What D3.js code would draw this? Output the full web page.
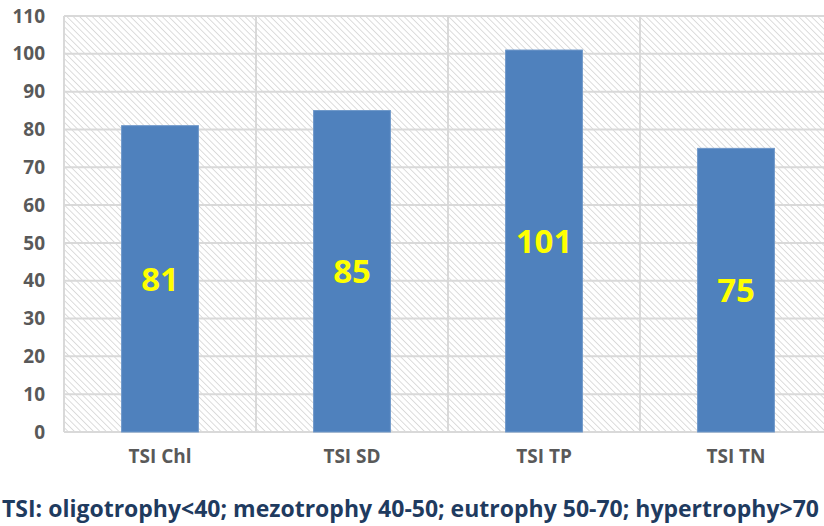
<!DOCTYPE html>
<html>
<head>
<meta charset="utf-8">
<script src="https://cdn.jsdelivr.net/npm/d3@7"></script>
<style>
  html, body { margin: 0; padding: 0; background: #fff; }
  svg { display: block; }
</style>
</head>
<body>
<svg id="chart" width="824" height="526"></svg>
<script>
// Trophic state index components
const categories = ["TSI Chl", "TSI SD", "TSI TP", "TSI TN"];
const values = [81, 85, 101, 75];
const yTicks = [0, 10, 20, 30, 40, 50, 60, 70, 80, 90, 100, 110];
const caption = "TSI: oligotrophy<40; mezotrophy 40-50; eutrophy 50-70; hypertrophy>70";

const svg = d3.select("#chart");
const font = "'Open Sans', Lato, 'DejaVu Sans', sans-serif";

const plot = { left: 64, top: 16, right: 832, bottom: 432 };

const x = d3.scaleBand()
  .domain(categories)
  .range([plot.left, plot.right])
  .paddingInner(0.6)
  .paddingOuter(0.3);

const xCat = d3.scaleBand()
  .domain(categories)
  .range([plot.left, plot.right]);

const y = d3.scaleLinear()
  .domain([0, 110])
  .range([plot.bottom, plot.top]);

// diagonal hatch fill for the plot background
const defs = svg.append("defs");
const pat = defs.append("pattern")
  .attr("id", "hatch")
  .attr("patternUnits", "userSpaceOnUse")
  .attr("width", 4.5)
  .attr("height", 4.5)
  .attr("patternTransform", "rotate(45)");
pat.append("rect").attr("width", 4.5).attr("height", 4.5).attr("fill", "#ffffff");
pat.append("line")
  .attr("x1", 0).attr("y1", 0).attr("x2", 4.5).attr("y2", 0)
  .attr("stroke", "#cfcfcf").attr("stroke-width", 1.4);

svg.append("rect")
  .attr("x", plot.left)
  .attr("y", plot.top)
  .attr("width", plot.right - plot.left)
  .attr("height", plot.bottom - plot.top)
  .attr("fill", "url(#hatch)");

// horizontal gridlines
svg.append("g")
  .selectAll("line")
  .data(yTicks)
  .join("line")
  .attr("x1", plot.left)
  .attr("x2", plot.right)
  .attr("y1", d => y(d))
  .attr("y2", d => y(d))
  .attr("stroke", "#d9d9d9")
  .attr("stroke-width", 2);

// vertical gridlines between categories
const vBounds = [plot.left].concat(categories.slice(1).map(c => xCat(c)));
svg.append("g")
  .selectAll("line")
  .data(vBounds)
  .join("line")
  .attr("x1", d => d)
  .attr("x2", d => d)
  .attr("y1", plot.top)
  .attr("y2", plot.bottom)
  .attr("stroke", "#d9d9d9")
  .attr("stroke-width", 2);

// bars
svg.append("g")
  .selectAll("rect")
  .data(values)
  .join("rect")
  .attr("x", (d, i) => x(categories[i]))
  .attr("width", x.bandwidth())
  .attr("y", d => y(d))
  .attr("height", d => y(0) - y(d))
  .attr("fill", "#4f81bd")
  .attr("stroke", "#6f98c9")
  .attr("stroke-width", 1);

// value labels centred inside the bars
svg.append("g")
  .selectAll("text")
  .data(values)
  .join("text")
  .attr("x", (d, i) => x(categories[i]) + x.bandwidth() / 2)
  .attr("y", d => (y(d) + y(0)) / 2)
  .attr("dy", "0.36em")
  .attr("text-anchor", "middle")
  .attr("font-family", font)
  .attr("font-weight", "bold")
  .attr("font-size", 33)
  .attr("fill", "#ffff00")
  .text(d => d);

// y axis tick labels
const yAxis = d3.axisLeft(y).tickValues(yTicks).tickSize(0).tickPadding(0);
const gy = svg.append("g")
  .attr("transform", "translate(45,0)")
  .call(yAxis);
gy.select(".domain").remove();
gy.selectAll("text")
  .attr("font-family", font)
  .attr("font-weight", "bold")
  .attr("font-size", 19)
  .attr("fill", "#595959");

// x axis category labels
const xAxis = d3.axisBottom(xCat).tickSize(0).tickPadding(0);
const gx = svg.append("g")
  .attr("transform", "translate(0,449)")
  .call(xAxis);
gx.select(".domain").remove();
gx.selectAll("text")
  .attr("font-family", font)
  .attr("font-weight", "bold")
  .attr("font-size", 19)
  .attr("fill", "#595959");

// caption below the chart, kept within the page width
svg.append("text")
  .attr("x", 2)
  .attr("y", 517)
  .attr("font-family", font)
  .attr("font-weight", "bold")
  .attr("font-size", 23)
  .attr("fill", "#1f3b5f")
  .text(caption);
</script>
</body>
</html>
